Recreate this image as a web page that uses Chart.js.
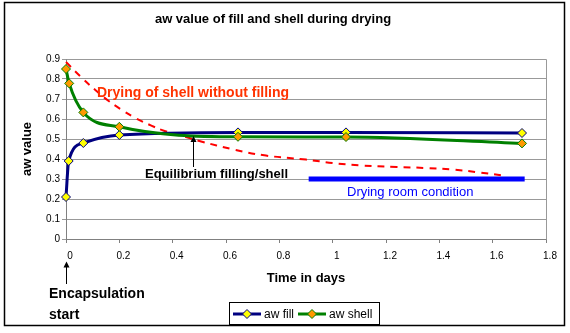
<!DOCTYPE html>
<html>
<head>
<meta charset="utf-8">
<script src="https://cdn.jsdelivr.net/npm/chart.js"></script>
<style>
  html, body { margin: 0; padding: 0; background: #fff; }
  #wrap { position: relative; width: 570px; height: 333px; }
</style>
</head>
<body>
<div id="wrap"><canvas id="awChart" width="570" height="333"></canvas></div>
<script>
// time in days and aw readings
const fillDays = [0, 0.01, 0.065, 0.2, 0.645, 1.05, 1.71];
const fillAw = [0.21, 0.39, 0.48, 0.52, 0.533, 0.533, 0.53];
const shellDays = [0, 0.012, 0.065, 0.2, 0.645, 1.05, 1.71];
const shellAw = [0.85, 0.778, 0.633, 0.561, 0.511, 0.51, 0.478];
// dashed curve: shell drying on its own
const dryDays = [0, 0.06, 0.11, 0.16, 0.21, 0.26, 0.32, 0.37, 0.45, 0.5, 0.63, 0.75, 0.9, 1.0, 1.1, 1.24, 1.35, 1.45, 1.55, 1.65];
const dryAw = [0.885, 0.805, 0.745, 0.69, 0.645, 0.605, 0.567, 0.54, 0.51, 0.49, 0.447, 0.417, 0.397, 0.38, 0.368, 0.36, 0.355, 0.347, 0.333, 0.315];
// drying room level
const roomDays = [0.91, 1.72];
const roomAw = [0.3, 0.3];

const xTicks = [0, 0.2, 0.4, 0.6, 0.8, 1, 1.2, 1.4, 1.6, 1.8];
const yTicks = [0, 0.1, 0.2, 0.3, 0.4, 0.5, 0.6, 0.7, 0.8, 0.9];
const seriesNames = ["aw fill", "aw shell"];

const equilibriumDay = 0.475;
const equilibriumAw = 0.52;

function pts(xs, ys) {
    return xs.map((x, i) => ({ x: x, y: ys[i] }));
}

const FONT = "'Liberation Sans', Arial, sans-serif";

function arrowUp(ctx, x, yTip, yEnd) {
    ctx.save();
    ctx.strokeStyle = "#000";
    ctx.fillStyle = "#000";
    ctx.lineWidth = 1;
    ctx.beginPath();
    ctx.moveTo(x, yTip + 4);
    ctx.lineTo(x, yEnd);
    ctx.stroke();
    ctx.beginPath();
    ctx.moveTo(x, yTip);
    ctx.lineTo(x - 3, yTip + 6);
    ctx.lineTo(x + 3, yTip + 6);
    ctx.closePath();
    ctx.fill();
    ctx.restore();
}

function diamond(ctx, x, y, r, fill, stroke) {
    ctx.beginPath();
    ctx.moveTo(x, y - r);
    ctx.lineTo(x + r, y);
    ctx.lineTo(x, y + r);
    ctx.lineTo(x - r, y);
    ctx.closePath();
    ctx.fillStyle = fill;
    ctx.fill();
    ctx.strokeStyle = stroke;
    ctx.lineWidth = 1;
    ctx.stroke();
}

const extras = {
    id: "extras",
    beforeDraw(chart) {
        const ctx = chart.ctx;
        ctx.save();
        ctx.fillStyle = "#fff";
        ctx.fillRect(0, 0, chart.width, chart.height);
        ctx.restore();
    },
    beforeDatasetsDraw(chart) {
        // plot frame
        const a = chart.chartArea;
        const ctx = chart.ctx;
        ctx.save();
        ctx.strokeStyle = "#999";
        ctx.lineWidth = 1;
        ctx.beginPath();
        ctx.moveTo(Math.round(a.left) + 0.5, Math.round(a.top) + 0.5);
        ctx.lineTo(Math.round(a.right) + 0.5, Math.round(a.top) + 0.5);
        ctx.lineTo(Math.round(a.right) + 0.5, Math.round(a.bottom) + 0.5);
        ctx.stroke();
        ctx.restore();
    },
    afterDraw(chart) {
        const ctx = chart.ctx;
        const xs = chart.scales.x, ys = chart.scales.y;
        ctx.save();

        // outer border
        ctx.strokeStyle = "#000";
        ctx.lineWidth = 1.5;
        ctx.strokeRect(4.5, 2.5, 560, 323);

        ctx.textBaseline = "middle";
        ctx.textAlign = "left";

        ctx.fillStyle = "#ff3300";
        ctx.font = "bold 14px " + FONT;
        ctx.fillText("Drying of shell without filling", 97, 93);

        ctx.fillStyle = "#000";
        ctx.font = "bold 13px " + FONT;
        ctx.fillText("Equilibrium filling/shell", 145, 174);

        ctx.fillStyle = "#0000ff";
        ctx.font = "13px " + FONT;
        ctx.fillText("Drying room condition", 347, 192);

        ctx.fillStyle = "#000";
        ctx.font = "bold 14px " + FONT;
        ctx.fillText("Encapsulation", 49, 294);
        ctx.fillText("start", 49, 315);

        const ex = Math.round(xs.getPixelForValue(equilibriumDay)) + 0.5;
        arrowUp(ctx, ex, ys.getPixelForValue(equilibriumAw) + 1, 167);
        const sx = Math.round(xs.getPixelForValue(0)) + 0.5;
        arrowUp(ctx, sx, 261.5, 284);

        // legend
        ctx.strokeStyle = "#000";
        ctx.lineWidth = 1;
        ctx.strokeRect(229.5, 302.5, 150, 22);
        const ds = chart.data.datasets;
        const items = [[233, ds[0]], [298, ds[1]]];
        ctx.font = "12px " + FONT;
        items.forEach(([lx, d], i) => {
            ctx.strokeStyle = d.borderColor;
            ctx.lineWidth = 3;
            ctx.beginPath();
            ctx.moveTo(lx, 314);
            ctx.lineTo(lx + 28, 314);
            ctx.stroke();
            diamond(ctx, lx + 14, 314, 4.5, d.pointBackgroundColor, d.pointBorderColor);
            ctx.fillStyle = "#000";
            ctx.fillText(seriesNames[i], lx + 31, 314.5);
        });
        ctx.restore();
    }
};

const chart = new Chart(document.getElementById("awChart"), {
    type: "line",
    data: {
        datasets: [
            {
                label: seriesNames[0],
                data: pts(fillDays, fillAw),
                borderColor: "#000080",
                borderWidth: 3,
                pointStyle: "rectRot",
                pointRadius: 4.5,
                pointBackgroundColor: "#ffff00",
                pointBorderColor: "#000080",
                pointBorderWidth: 1,
                cubicInterpolationMode: "monotone",
                clip: false,
                order: 2
            },
            {
                label: seriesNames[1],
                data: pts(shellDays, shellAw),
                borderColor: "#008000",
                borderWidth: 3,
                pointStyle: "rectRot",
                pointRadius: 4.5,
                pointBackgroundColor: "#ff9900",
                pointBorderColor: "#008000",
                pointBorderWidth: 1,
                cubicInterpolationMode: "monotone",
                clip: false,
                order: 1
            },
            {
                label: "shell alone",
                data: pts(dryDays, dryAw),
                borderColor: "#ff0000",
                borderWidth: 2,
                borderDash: [7, 6],
                pointRadius: 0,
                tension: 0.4,
                clip: false,
                order: 3
            },
            {
                label: "room",
                data: pts(roomDays, roomAw),
                borderColor: "#0000ff",
                borderWidth: 5,
                pointRadius: 0,
                order: 4
            }
        ]
    },
    options: {
        responsive: false,
        animation: false,
        layout: { padding: { left: 0, right: 24, top: 0, bottom: 0 } },
        plugins: {
            legend: { display: false },
            tooltip: { enabled: false },
            title: {
                display: true,
                text: "aw value of fill and shell during drying",
                color: "#000",
                font: { family: FONT, size: 13, weight: "bold" },
                padding: { top: 11.5, bottom: 31.9 }
            }
        },
        scales: {
            x: {
                type: "linear",
                min: 0,
                max: 1.8,
                afterBuildTicks: (s) => { s.ticks = xTicks.map(v => ({ value: v })); },
                afterFit: (s) => { s.height = 94; },
                ticks: {
                    color: "#000",
                    font: { family: FONT, size: 10 },
                    padding: 7,
                    labelOffset: 4,
                    maxRotation: 0,
                    callback: (v) => String(v)
                },
                grid: { drawOnChartArea: false, drawTicks: true, tickLength: 4, color: "#808080" },
                border: { color: "#808080", width: 1 },
                title: {
                    display: true,
                    text: "Time in days",
                    color: "#000",
                    font: { family: FONT, size: 13, weight: "bold" },
                    padding: { top: 0, bottom: 47 }
                }
            },
            y: {
                type: "linear",
                min: 0,
                max: 0.9,
                afterBuildTicks: (s) => { s.ticks = yTicks.map(v => ({ value: v })); },
                afterFit: (s) => { s.width = 66; },
                ticks: {
                    color: "#000",
                    font: { family: FONT, size: 10 },
                    padding: 2,
                    callback: (v) => String(v)
                },
                grid: { color: "#999", tickLength: 4 },
                border: { color: "#808080", width: 1 },
                title: {
                    display: true,
                    text: "aw value",
                    color: "#000",
                    font: { family: FONT, size: 13, weight: "bold" },
                    padding: { top: 20, bottom: 0 }
                }
            }
        }
    },
    plugins: [extras]
});
</script>
</body>
</html>
